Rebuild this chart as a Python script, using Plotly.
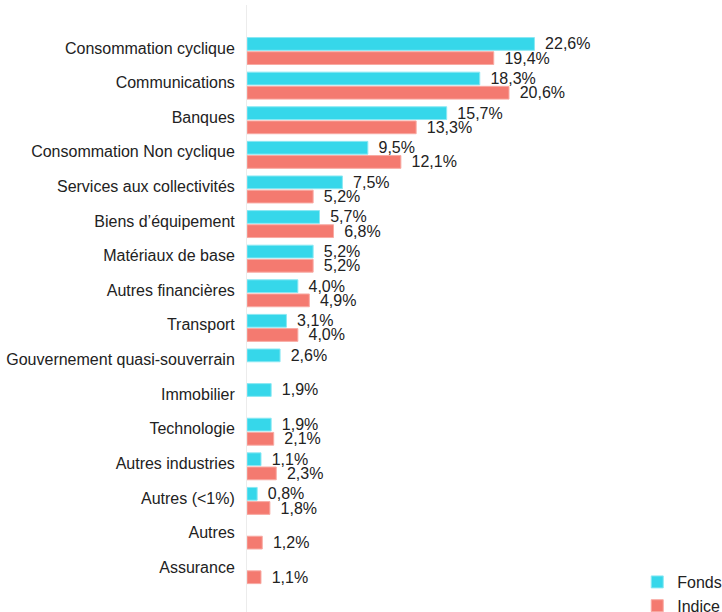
import plotly.graph_objects as go

categories = ["Consommation cyclique", "Communications", "Banques", "Consommation Non cyclique",
              "Services aux collectivités", "Biens d’équipement", "Matériaux de base",
              "Autres financières", "Transport", "Gouvernement quasi-souverrain", "Immobilier",
              "Technologie", "Autres industries", "Autres (<1%)", "Autres", "Assurance"]
fonds = [22.6, 18.3, 15.7, 9.5, 7.5, 5.7, 5.2, 4.0, 3.1, 2.6, 1.9, 1.9, 1.1, 0.8, None, None]
indice = [19.4, 20.6, 13.3, 12.1, 5.2, 6.8, 5.2, 4.9, 4.0, None, None, 2.1, 2.3, 1.8, 1.2, 1.1]

def fmt(vals):
    return ["\u00a0\u2009" + f"{v:.1f}".replace(".", ",") + "%" if v is not None else "" for v in vals]

font = "Liberation Sans, Arial, sans-serif"
fig = go.Figure()
fig.add_trace(go.Bar(y=categories, x=fonds, name="Fonds", orientation="h",
                     marker=dict(color="#36d7ea", line=dict(color="#8ae8f3", width=1)),
                     text=fmt(fonds), textposition="outside", cliponaxis=False,
                     constraintext="none",
                     textfont=dict(size=16, color="#222", family=font)))
fig.add_trace(go.Bar(y=categories, x=indice, name="Indice", orientation="h",
                     marker=dict(color="#f47a70", line=dict(color="#f8aaa3", width=1)),
                     text=fmt(indice), textposition="outside", cliponaxis=False,
                     constraintext="none",
                     textfont=dict(size=16, color="#222", family=font)))

fig.update_layout(
    width=722, height=612,
    margin=dict(l=247, r=82, t=5, b=0, autoexpand=False),
    paper_bgcolor="white", plot_bgcolor="white",
    barmode="group", bargap=0.18, bargroupgap=0.1,
    font=dict(family=font, size=16, color="#222"),
    showlegend=True,
    legend=dict(x=0.993, xanchor="left", y=0.0774, yanchor="top",
                font=dict(size=16, color="#222", family=font), bgcolor="rgba(0,0,0,0)"),
    xaxis=dict(range=[0, 30.9], showgrid=False, zeroline=False, showticklabels=False,
               showline=False, fixedrange=True, automargin=False),
    yaxis=dict(type="category", range=[16.21, -1.33], showgrid=False, zeroline=False,
               showline=True, linecolor="#ececec", linewidth=1, automargin=False,
               ticks="", ticklabelstandoff=8, ticklabelshift=3,
               tickfont=dict(size=16, color="#222", family=font)),
)
fig.write_html("out.html", config={"displayModeBar": False},
               post_script="document.body.style.margin='0';document.body.style.overflow='hidden';")
